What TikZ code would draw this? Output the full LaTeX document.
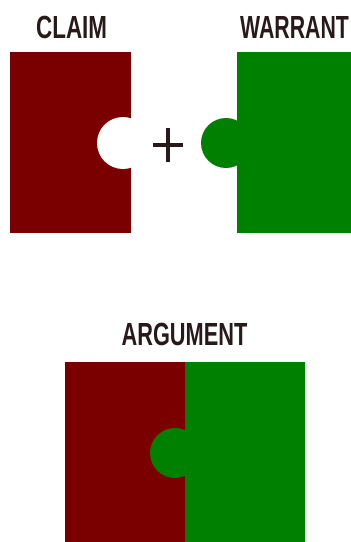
\documentclass[tikz,border=0pt]{standalone}
\usepackage{fontspec}
\setmainfont{Liberation Sans}
\definecolor{claimred}{RGB}{122,0,0}
\definecolor{warrgreen}{RGB}{0,128,0}
\definecolor{ink}{RGB}{40,26,26}
\begin{document}
\begin{tikzpicture}[x=1pt,y=-1pt,
  title/.style={inner sep=0pt, text=ink, font=\fontsize{32}{32}\selectfont\bfseries}]
\useasboundingbox (0,0) rectangle (351,542);
\fill[white] (0,0) rectangle (351,542);
% top: claim
\fill[claimred] (10,52) rectangle (131,233);
\fill[white] (123,143) circle[radius=26];
% top: warrant
\fill[warrgreen] (237,52) rectangle (351,233);
\fill[warrgreen] (226,143) circle[radius=25];
% plus
\draw[ink, line width=3.8pt] (153,145) -- (183,145);
\draw[ink, line width=3.8pt] (168,128) -- (168,162);
% bottom: argument
\fill[claimred] (65,362) rectangle (185,542);
\fill[warrgreen] (185,362) rectangle (305,542);
\fill[warrgreen] (175,453) circle[radius=25];
% titles
\node[title, anchor=base west] (claim) at (36,38) {\scalebox{0.70}[1]{CLAIM}};
\node[title, anchor=base west] (warrant) at (240,38) {\scalebox{0.665}[1]{WARRANT}};
\node[title, anchor=base] (argument) at (184.5,345) {\scalebox{0.68}[1]{ARGUMENT}};
\end{tikzpicture}
\end{document}
